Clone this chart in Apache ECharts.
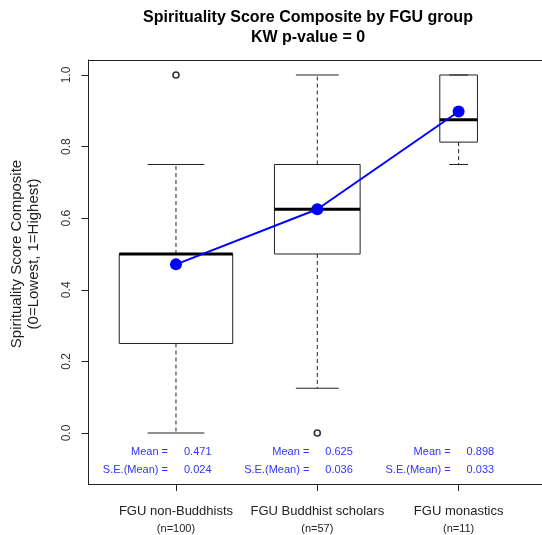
<!DOCTYPE html>
<html>
<head>
<meta charset="utf-8">
<script src="https://cdn.jsdelivr.net/npm/echarts@6/dist/echarts.min.js"></script>
<style>
html,body{margin:0;padding:0;background:#fff;}
#chart{width:542px;height:535px;}
</style>
</head>
<body>
<div id="chart"></div>
<script>
// ---- data ----
const categories = ['FGU non-Buddhists', 'FGU Buddhist scholars', 'FGU monastics'];
const counts = [100, 57, 11];
const whiskerLow = [0, 0.125, 0.75];
const q1 = [0.25, 0.5, 0.8125];
const medians = [0.5, 0.625, 0.875];
const q3 = [0.5, 0.75, 1.0];
const whiskerHigh = [0.75, 1.0, 1.0];
const outlierGroup = [1, 2];
const outlierValue = [1.0, 0.0];
const means = [0.471, 0.625, 0.898];
const seMeans = [0.024, 0.036, 0.033];
const yTicks = [0, 0.2, 0.4, 0.6, 0.8, 1.0];
const titleLines = ['Spirituality Score Composite by FGU group', 'KW p-value = 0'];
const yTitleLines = ['Spirituality Score Composite', '(0=Lowest, 1=Highest)'];

// ---- build ----
const FONT = '"Liberation Sans", Arial, sans-serif';
const positions = categories.map((c, i) => i + 1);
const boxData = positions.map((p, i) => [p, whiskerLow[i], q1[i], medians[i], q3[i], whiskerHigh[i], counts[i]]);
const outlierData = outlierGroup.map((g, i) => [g, outlierValue[i]]);
const meanData = positions.map((p, i) => [p, means[i]]);
const statData = positions.map((p, i) => [p, means[i], seMeans[i]]);
const WIDTH_PER_SQRT_N = 0.0803;

const chart = echarts.init(document.getElementById('chart'), null, {renderer: 'canvas'});
const lineCol = '#222';

const option = {
  animation: false,
  backgroundColor: '#ffffff',
  grid: {left: 88.5, right: 0, top: 60, bottom: 51, containLabel: false},
  xAxis: [{
    type: 'value', min: 0.381, max: 3.59,
    splitLine: {show: false},
    axisLine: {show: true, onZero: false, lineStyle: {color: lineCol, width: 1}},
    axisTick: {show: true, length: 7, customValues: positions, lineStyle: {color: lineCol}},
    axisLabel: {
      show: true, margin: 17, customValues: positions,
      formatter: v => {
        const i = Math.round(v) - 1;
        return '{a|' + categories[i] + '}\n{b|(n=' + counts[i] + ')}';
      },
      rich: {
        a: {fontFamily: FONT, fontSize: 13, color: '#222', lineHeight: 20},
        b: {fontFamily: FONT, fontSize: 11, color: '#222', lineHeight: 16}
      }
    }
  }, {
    type: 'value', position: 'top', min: 0.381, max: 3.59,
    splitLine: {show: false},
    axisLine: {show: true, onZero: false, lineStyle: {color: lineCol, width: 1}},
    axisTick: {show: false}, axisLabel: {show: false}
  }],
  yAxis: {
    type: 'value', min: -0.1425, max: 1.0419,
    splitLine: {show: false},
    axisLine: {show: true, onZero: false, lineStyle: {color: lineCol, width: 1}},
    axisTick: {show: true, length: 7, customValues: yTicks, lineStyle: {color: lineCol}},
    axisLabel: {
      show: true, rotate: 90, margin: 16, customValues: yTicks,
      formatter: v => v.toFixed(1),
      fontFamily: FONT, fontSize: 12, color: '#333'
    }
  },
  graphic: [
    {type: 'text', x: 308, y: 18, style: {text: titleLines[0], font: 'bold 16px ' + FONT, fill: '#000', textAlign: 'center', textVerticalAlign: 'middle'}},
    {type: 'text', x: 308, y: 38, style: {text: titleLines[1], font: 'bold 16px ' + FONT, fill: '#000', textAlign: 'center', textVerticalAlign: 'middle'}},
    {type: 'text', x: 17, y: 254, rotation: Math.PI / 2, style: {text: yTitleLines[0], font: '15px ' + FONT, fill: '#222', textAlign: 'center', textVerticalAlign: 'middle'}},
    {type: 'text', x: 34, y: 254, rotation: Math.PI / 2, style: {text: yTitleLines[1], font: '15px ' + FONT, fill: '#222', textAlign: 'center', textVerticalAlign: 'middle'}}
  ],
  series: [
    {
      type: 'custom',
      data: boxData,
      z: 2,
      renderItem: function (params, api) {
        const x = api.value(0);
        const n = api.value(6);
        const w = WIDTH_PER_SQRT_N * Math.sqrt(n);
        const px = api.coord([x, 0])[0];
        const half = api.size([w, 0])[0] / 2;
        const yLo = api.coord([x, api.value(1)])[1];
        const yQ1 = api.coord([x, api.value(2)])[1];
        const yMed = api.coord([x, api.value(3)])[1];
        const yQ3 = api.coord([x, api.value(4)])[1];
        const yHi = api.coord([x, api.value(5)])[1];
        const thin = {stroke: lineCol, lineWidth: 1, fill: null};
        const dash = {stroke: lineCol, lineWidth: 1, lineDash: [4, 3]};
        return {
          type: 'group',
          children: [
            {type: 'line', shape: {x1: px, y1: yQ1, x2: px, y2: yLo}, style: dash},
            {type: 'line', shape: {x1: px, y1: yQ3, x2: px, y2: yHi}, style: dash},
            {type: 'line', shape: {x1: px - half / 2, y1: yLo, x2: px + half / 2, y2: yLo}, style: thin},
            {type: 'line', shape: {x1: px - half / 2, y1: yHi, x2: px + half / 2, y2: yHi}, style: thin},
            {type: 'rect', shape: {x: px - half, y: yQ3, width: 2 * half, height: yQ1 - yQ3}, style: {stroke: lineCol, lineWidth: 1, fill: 'rgba(0,0,0,0)'}},
            {type: 'line', shape: {x1: px - half, y1: yMed, x2: px + half, y2: yMed}, style: {stroke: '#000', lineWidth: 3}}
          ]
        };
      }
    },
    {
      type: 'scatter',
      data: outlierData,
      symbol: 'circle', symbolSize: 6,
      itemStyle: {color: '#fff', borderColor: '#000', borderWidth: 1.6},
      z: 3
    },
    {
      type: 'line',
      data: meanData,
      symbol: 'circle', symbolSize: 12,
      lineStyle: {color: '#0000ff', width: 2},
      itemStyle: {color: '#0000ff'},
      z: 5
    },
    {
      type: 'custom',
      data: statData,
      z: 4,
      renderItem: function (params, api) {
        const x = api.value(0);
        const px = api.coord([x, 0])[0];
        const f = '11px ' + FONT;
        const col = '#3333ff';
        return {
          type: 'group',
          children: [
            {type: 'text', x: px - 8, y: 452, style: {text: 'Mean =', font: f, fill: col, textAlign: 'right', textVerticalAlign: 'middle'}},
            {type: 'text', x: px + 8, y: 452, style: {text: api.value(1).toFixed(3), font: f, fill: col, textAlign: 'left', textVerticalAlign: 'middle'}},
            {type: 'text', x: px - 8, y: 470, style: {text: 'S.E.(Mean) =', font: f, fill: col, textAlign: 'right', textVerticalAlign: 'middle'}},
            {type: 'text', x: px + 8, y: 470, style: {text: api.value(2).toFixed(3), font: f, fill: col, textAlign: 'left', textVerticalAlign: 'middle'}}
          ]
        };
      }
    }
  ]
};
chart.setOption(option);
</script>
</body>
</html>
